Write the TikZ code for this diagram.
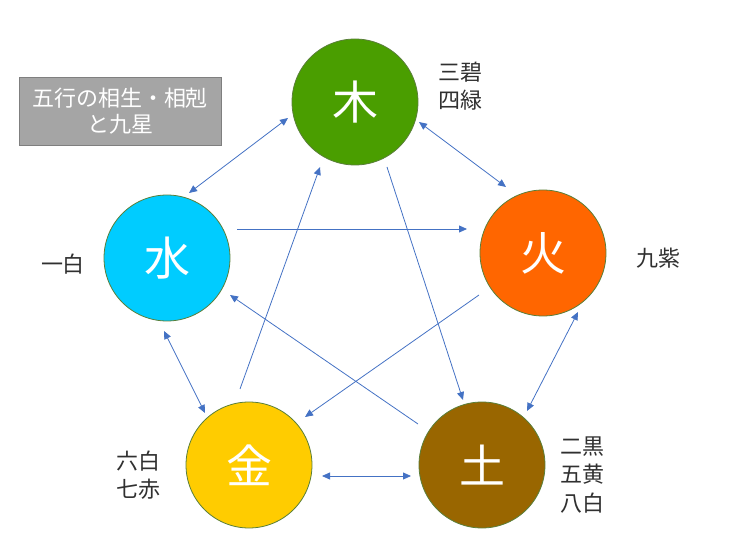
\documentclass[tikz,border=0pt]{standalone}
\usepackage{fontspec}
\setmainfont{Noto Sans CJK JP}
\usetikzlibrary{arrows.meta}
\definecolor{woodc}{HTML}{4A9E00}
\definecolor{firec}{HTML}{FF6600}
\definecolor{waterc}{HTML}{00CCFF}
\definecolor{metalc}{HTML}{FFCC00}
\definecolor{earthc}{HTML}{996600}
\definecolor{rimc}{HTML}{5A7F3A}
\definecolor{arrc}{HTML}{4472C4}
\definecolor{labc}{HTML}{303030}
\definecolor{boxc}{HTML}{A5A5A5}
\definecolor{boxrim}{HTML}{7F7F7F}
\tikzset{
  elem/.style={circle, draw=rimc, line width=0.8pt, minimum size=126pt, inner sep=0pt,
    text=white, font=\fontsize{46}{46}\selectfont},
  lab/.style={text=labc, font=\fontsize{22}{28.5}\selectfont, align=center, inner sep=0pt},
  conn/.style={draw=arrc, line width=0.8pt},
  one/.style={conn, -{Triangle[length=8pt,width=7pt]}},
  two/.style={conn, {Triangle[length=8pt,width=7pt]}-{Triangle[length=8pt,width=7pt]}}
}
\begin{document}
\begin{tikzpicture}[x=1pt,y=-1pt]
\useasboundingbox (0,0) rectangle (742,553);
\node[elem, fill=woodc] (wood) at (355,102) {木};
\node[elem, fill=firec] (fire) at (543,253) {火};
\node[elem, fill=waterc] (water) at (167,258) {水};
\node[elem, fill=metalc] (metal) at (249,465) {金};
\node[elem, fill=earthc] (earth) at (482,465) {土};

\node[lab] (lwood) at (460,86) {三碧\\四緑};
\node[lab] (lfire) at (658,258) {九紫};
\node[lab] (lwater) at (63,264) {一白};
\node[lab] (lmetal) at (138,475) {六白\\七赤};
\node[lab] (learth) at (582,475) {二黒\\五黄\\八白};

\node[draw=boxrim, fill=boxc, line width=0.8pt, minimum width=202pt, minimum height=68pt,
  text=white, font=\fontsize{22}{26}\selectfont, align=center, inner sep=0pt]
  (title) at (120,111) {五行の相生・相剋\\と九星};

\draw[two] ([shift={(-67,16)}]wood.center) -- ([shift={(22,-65)}]water.center);
\draw[two] ([shift={(64,20)}]wood.center) -- ([shift={(-37,-66)}]fire.center);
\draw[one] ([shift={(70,-29)}]water.center) -- ([shift={(-76,-24)}]fire.center);
\draw[two] ([shift={(35,59)}]fire.center) -- ([shift={(45,-54)}]earth.center);
\draw[two] ([shift={(73,11)}]metal.center) -- ([shift={(-71,11)}]earth.center);
\draw[two] ([shift={(-3,73)}]water.center) -- ([shift={(-44,-52)}]metal.center);
\draw[one] ([shift={(-9,-76)}]metal.center) -- ([shift={(-35,65)}]wood.center);
\draw[one] ([shift={(32,65)}]wood.center) -- ([shift={(-19,-65)}]earth.center);
\draw[one] ([shift={(-64,42)}]fire.center) -- ([shift={(56,-48)}]metal.center);
\draw[one] ([shift={(-64,-41)}]earth.center) -- ([shift={(63,37)}]water.center);
\end{tikzpicture}
\end{document}
